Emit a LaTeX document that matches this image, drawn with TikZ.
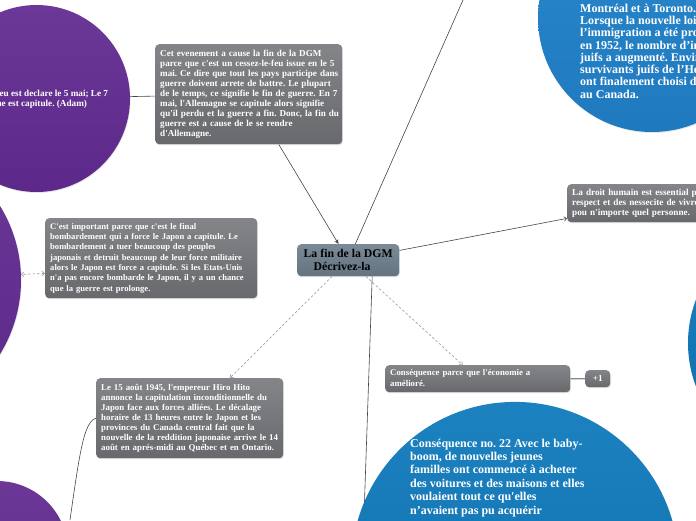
\documentclass[tikz,border=0pt]{standalone}
\usepackage{fontspec}
\defaultfontfeatures[\rmfamily]{}
\setmainfont{Liberation Serif}
\usetikzlibrary{arrows.meta,calc,shadows}
\definecolor{gtop}{HTML}{848589}
\definecolor{gbot}{HTML}{68696D}
\definecolor{ctop}{HTML}{7A8A97}
\definecolor{cbot}{HTML}{63737F}
\definecolor{ptop}{HTML}{6B3898}
\definecolor{pbot}{HTML}{5C2889}
\definecolor{bAtop}{HTML}{2A89CE}
\definecolor{bAbot}{HTML}{1F79BE}
\definecolor{bBtop}{HTML}{1C82BF}
\definecolor{bBbot}{HTML}{0C6DAB}
\definecolor{lnk}{HTML}{444444}
\definecolor{dsh}{HTML}{A3A3A3}
\pgfdeclarelayer{bg}
\pgfdeclarelayer{lines}
\pgfsetlayers{bg,lines,main}
\newcommand\lns[1]{\begin{tabular}{@{}l@{}}#1\end{tabular}}
\tikzset{
  gbox/.style={rectangle, rounded corners=4pt, top color=gtop, bottom color=gbot,
    text=white, font=\bfseries\fontsize{9.2}{10}\selectfont, align=left,
    inner xsep=5pt, inner ysep=3pt, anchor=north west,
    drop shadow={opacity=0.25, shadow xshift=0.6pt, shadow yshift=-1pt}},
  cbox/.style={rectangle, rounded corners=4pt, top color=ctop, bottom color=cbot,
    text=black, font=\bfseries\fontsize{11.8}{13}\selectfont, align=left,
    inner xsep=6pt, inner ysep=3pt, anchor=north west,
    drop shadow={opacity=0.25, shadow xshift=0.6pt, shadow yshift=-1pt}},
  bubble/.style={circle, inner sep=0pt, outer sep=0pt,
    drop shadow={opacity=0.2, shadow xshift=0.6pt, shadow yshift=-1pt}},
  purple/.style={bubble, top color=ptop, bottom color=pbot},
  blueA/.style={bubble, top color=bAtop, bottom color=bAbot},
  blueB/.style={bubble, top color=bBtop, bottom color=bBbot},
  btext/.style={text=white, align=left, inner sep=0pt, anchor=north west},
  lnk/.style={draw=lnk, line width=0.6pt},
  dlnk/.style={draw=dsh, line width=0.7pt, dash pattern=on 2.5pt off 2pt},
  barb/.tip={Straight Barb[length=2.5pt,width=4.5pt]},
}
\begin{document}
\frenchspacing
\begin{tikzpicture}[x=1pt,y=-1pt]
\useasboundingbox (0,0) rectangle (696,520);
% bubbles
\begin{pgfonlayer}{bg}
\node[purple, minimum size=187pt] (pc1) at (36.5,98.5) {};
\node[purple, minimum size=282pt] (pc2) at (-120,280) {};
\node[purple, minimum size=142pt] (pc3) at (-3,552) {};
\node[blueA, minimum size=228pt] (ba) at (652,18) {};
\node[blueB, minimum size=327pt] (bb) at (515,565.4) {};
\node[blueB, minimum size=244pt] (bc) at (810,343) {};
\end{pgfonlayer}
% bubble texts
\node[btext, font=\bfseries\fontsize{9.2}{10}\selectfont] (pc1t) at (-3.6,89.5)
  {feu est declare le 5 mai; Le 7\\ne est capitule. (Adam)};
\node[btext, font=\bfseries\fontsize{12}{12.3}\selectfont] (bat) at (580,3.6)
  {Montréal et à Toronto.\\Lorsque la nouvelle loi\\l’immigration a été pro\\en 1952, le nombre d’in\\juifs a augmenté. Envir\\survivants juifs de l’Ho\\ont finalement choisi d\\au Canada.};
\node[btext, font=\bfseries\fontsize{12}{13.4}\selectfont] (bbt) at (410,438.5)
  {Conséquence no. 22 Avec le baby-\\boom, de nouvelles jeunes\\familles ont commencé à acheter\\des voitures et des maisons et elles\\voulaient tout ce qu'elles\\n’avaient pas pu acquérir};
% boxes
\coordinate (topend) at (463,0);
\coordinate (botend) at (70,520);
\node[gbox, font=\bfseries\fontsize{9.1}{10}\selectfont, text width=177pt, minimum height=100pt] (dgm) at (155,44)
  {\lns{Cet evenement a cause la fin de la DGM\\parce que c'est un cessez-le-feu issue en le 5\\mai. Ce dire que tout les pays participe dans\\guerre doivent arrete de battre. Le plupart\\de le temps, ce signifie le fin de guerre. En 7\\mai, l'Allemagne se capitule alors signifie\\qu'il perdu et la guerre a fin. Donc, la fin du\\guerre est a cause de le se rendre\\d'Allemagne.}};
\node[cbox, minimum width=102pt, minimum height=32pt] (ctr) at (297,244)
  {La fin de la DGM\\\hspace*{10pt}Décrivez-la};
\node[gbox, text width=150pt, minimum height=38pt] (rbox) at (567,184)
  {\lns{La droit humain est essential po\\respect et des nessecite de vivre\\pou n'importe quel personne.}};
\node[gbox, font=\bfseries\fontsize{8.6}{10.3}\selectfont, text width=202pt, minimum height=80pt] (lbox) at (45,218)
  {\lns{C'est important parce que c'est le final\\bombardement qui a force le Japon a capitule. Le\\bombardement a tuer beaucoup des peuples\\japonais et detruit beaucoup de leur force militaire\\alors le Japon est force a capitule. Si les Etats-Unis\\n'a pas encore bombarde le Japon, il y a un chance\\que la guerre est prolonge.}};
\node[gbox, font=\bfseries\fontsize{8.85}{10}\selectfont, text width=177pt, minimum height=80pt] (p15) at (96,378)
  {\lns{Le 15 août 1945, l'empereur Hiro Hito\\annonce la capitulation inconditionnelle du\\Japon face aux forces alliées. Le décalage\\horaire de 13 heures entre le Japon et les\\provinces du Canada central fait que la\\nouvelle de la reddition japonaise arrive le 14\\août en aprés-midi au Québec et en Ontario.}};
\node[gbox, font=\bfseries\fontsize{8.8}{10.5}\selectfont, text width=175pt, minimum height=25pt] (cons) at (385,365)
  {\lns{Conséquence parce que l'économie a\\amélioré.}};
\node[gbox, align=center, inner xsep=0pt, minimum width=25pt, minimum height=17pt] (plus) at (585,370) {+1};
% connectors
\begin{pgfonlayer}{lines}
\draw[lnk] (pc1) -- (dgm);
\draw[lnk, -{Stealth[length=4.5pt,width=4pt]}] (dgm) -- (ctr);
\draw[lnk] (ctr) -- (topend);
\draw[lnk, -barb] (ctr) -- ($(rbox.south west)+(0,-4)$);
\draw[dlnk, -barb] (ctr) -- (cons);
\draw[dlnk, -barb] (ctr) -- (p15);
\draw[dlnk, barb-barb] ($(lbox.south west)+(0,-25)$) -- (pc2);
\draw[lnk] (botend) .. controls (80,450) and (84,422) .. (p15.west);
\draw[lnk] ($(ctr.south)+(24,0)$) -- (bb.157);
\draw[draw=gtop, line width=1.2pt] (cons) -- (plus);
\end{pgfonlayer}
\end{tikzpicture}
\end{document}
